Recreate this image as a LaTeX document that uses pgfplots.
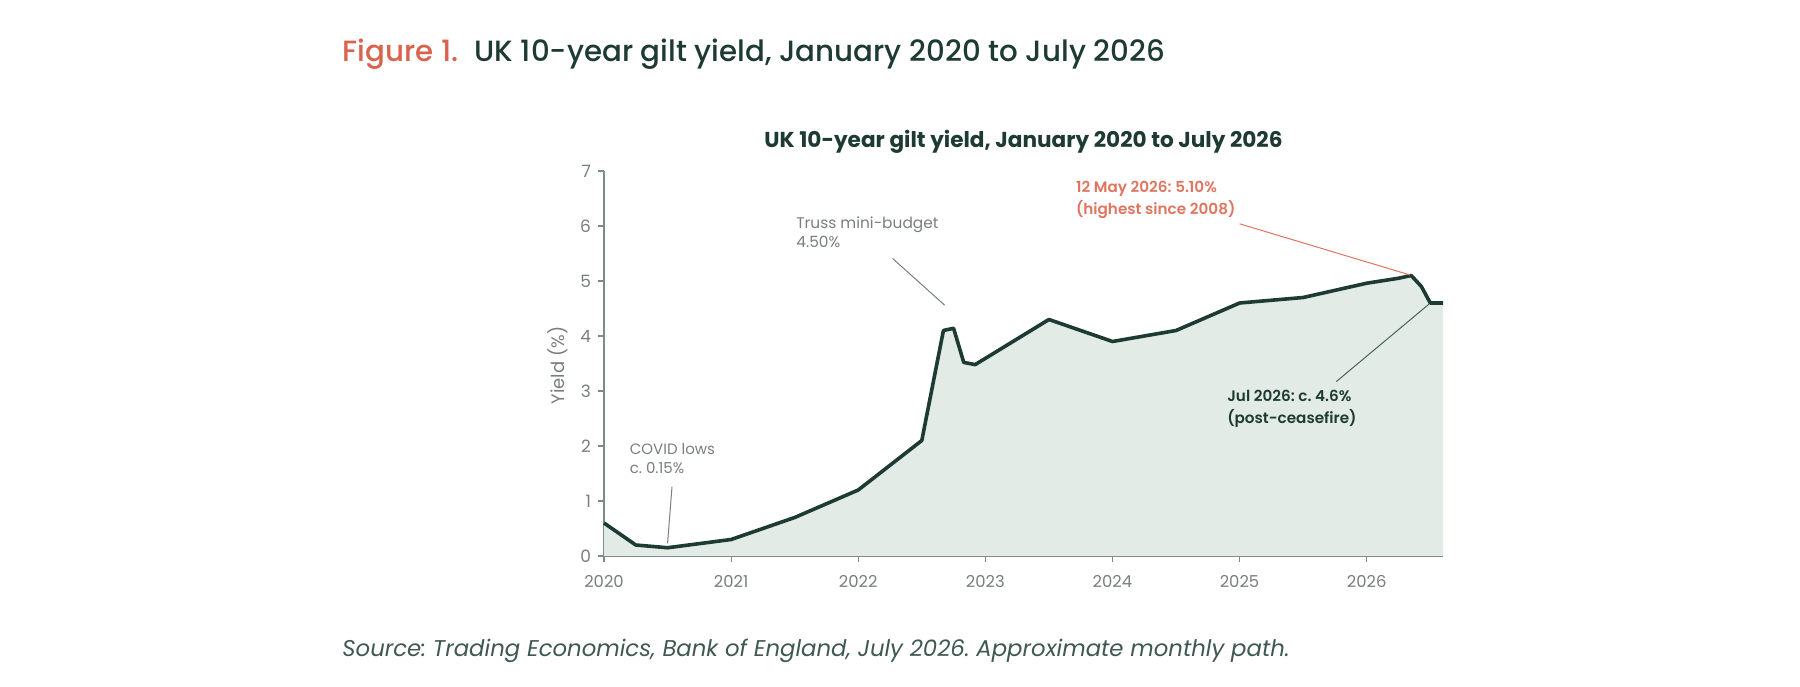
\documentclass[border=0pt]{standalone}
\usepackage{fontspec}
\setmainfont{Poppins}
\newfontfamily\pmed{Poppins Medium}
\newfontfamily\psemi{Poppins SemiBold}
\usepackage{pgfplots}
\pgfplotsset{compat=1.18}
\definecolor{dkgreen}{HTML}{1E3B33}
\definecolor{areafill}{HTML}{E2EBE6}
\definecolor{accent}{HTML}{D9634C}
\definecolor{annot}{HTML}{E07560}
\definecolor{graytxt}{HTML}{7A7F7E}
\definecolor{axisgray}{HTML}{7D8B8A}
\pgfplotstableread{
x y
2020.00 0.60
2020.25 0.20
2020.50 0.15
2021.00 0.30
2021.50 0.70
2022.00 1.20
2022.50 2.10
2022.67 4.10
2022.75 4.14
2022.83 3.52
2022.92 3.48
2023.50 4.30
2024.00 3.90
2024.50 4.10
2025.00 4.60
2025.50 4.70
2026.00 4.96
2026.25 5.05
2026.35 5.10
2026.43 4.90
2026.50 4.60
2026.60 4.60
}\gilt
\begin{document}
\frenchspacing
\begin{tikzpicture}
\path[fill=white,use as bounding box] (0,0) rectangle (900pt,343pt);
\node[anchor=west,inner sep=0,font=\pmed\fontsize{14.65}{17}\selectfont] at (171pt,316pt) {\textcolor{accent}{Figure 1.}\hspace{0.55em}\textcolor{dkgreen}{UK 10-year gilt yield, January 2020 to July 2026}};
\node[anchor=south west,inner sep=0,font=\itshape\fontsize{11.4}{13}\selectfont,text=dkgreen!85] at (171pt,11.5pt) {Source: Trading Economics, Bank of England, July 2026. Approximate monthly path.};
\begin{axis}[
  at={(302pt,65pt)}, anchor=south west,
  scale only axis, width=419.5pt, height=192.5pt,
  xmin=2020, xmax=2026.6, ymin=0, ymax=7,
  axis x line*=bottom, axis y line*=left,
  axis line style={axisgray, line width=0.8pt, -},
  xtick={2020,...,2026}, ytick={0,...,7},
  tick style={axisgray, line width=0.6pt},
  tick align=outside, major tick length=3pt,
  xticklabel style={font=\fontsize{8.2}{9}\selectfont, text=graytxt, yshift=-3pt},
  yticklabel style={font=\fontsize{8.5}{9}\selectfont, text=graytxt},
  /pgf/number format/assume math mode=true,
  /pgf/number format/1000 sep={},
  ylabel={Yield (\%)},
  ylabel style={at={(axis description cs:-0.0548,0.495)}, anchor=center, font=\fontsize{9}{10}\selectfont, text=graytxt},
  title={UK 10-year gilt yield, January 2020 to July 2026},
  title style={at={(axis description cs:0.5,1)}, anchor=south, yshift=-1pt, font=\bfseries\fontsize{10.8}{12}\selectfont, text=dkgreen},
  clip=false,
]
\addplot[fill=areafill, draw=none] table[x=x,y=y]{\gilt} \closedcycle;
\addplot[dkgreen, line width=1.8pt, line join=round] table[x=x,y=y]{\gilt};
% leaders
\draw[graytxt, line width=0.5pt] (axis cs:2022.27,5.41) -- (axis cs:2022.68,4.56);
\draw[graytxt, line width=0.5pt] (axis cs:2020.535,1.26) -- (axis cs:2020.50,0.23);
\draw[annot, line width=0.5pt] (axis cs:2025.0,6.04) -- (axis cs:2026.34,5.11);
\draw[dkgreen!80, line width=0.5pt] (axis cs:2025.76,3.17) -- (axis cs:2026.49,4.58);
\node[anchor=north west, inner sep=0, align=left, text=graytxt, font=\fontsize{7.7}{9.5}\selectfont] at (axis cs:2021.51,6.17) {Truss mini-budget\\4.50\%};
\node[anchor=north west, inner sep=0, align=left, text=graytxt, font=\fontsize{7.5}{9.5}\selectfont] at (axis cs:2020.20,2.06) {COVID lows\\c. 0.15\%};
\node[anchor=north west, inner sep=0, align=left, text=annot, font=\psemi\fontsize{7.6}{11}\selectfont] at (axis cs:2023.71,6.82) {12 May 2026: 5.10\%\\(highest since 2008)};
\node[anchor=north west, inner sep=0, align=left, text=dkgreen, font=\psemi\fontsize{7.6}{11}\selectfont] at (axis cs:2024.90,3.02) {Jul 2026: c. 4.6\%\\(post-ceasefire)};
\end{axis}
\end{tikzpicture}
\end{document}
